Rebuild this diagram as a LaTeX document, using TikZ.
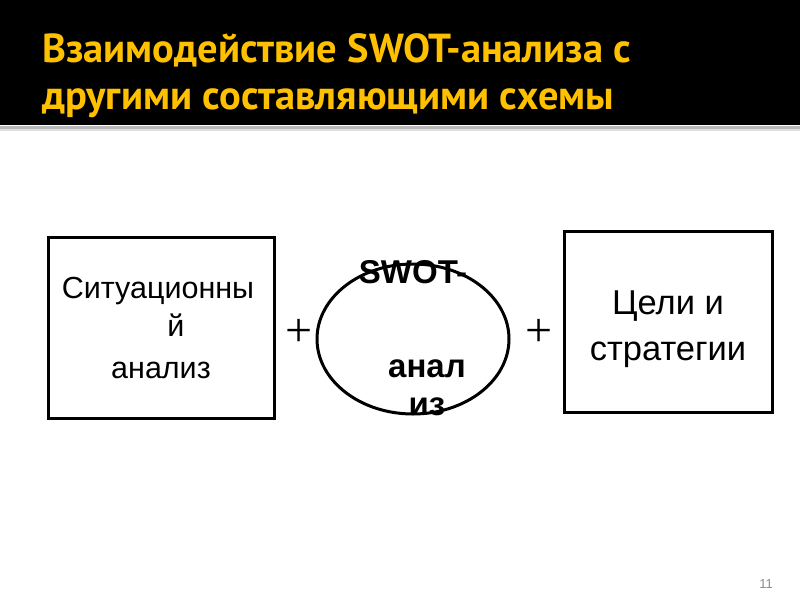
\documentclass[tikz,border=0pt]{standalone}
\usepackage{fontspec}
\setmainfont{Liberation Sans}
\newfontfamily\titlefont{PT Sans}
\newfontfamily\plusfont{Liberation Serif}
\definecolor{titleyellow}{HTML}{FFC000}
\definecolor{pagegray}{HTML}{8C8C8C}
\begin{document}
\begin{tikzpicture}[x=1pt,y=-1pt,
  bodytext/.style={font=\fontsize{30.5}{34}\selectfont,anchor=base,inner sep=0pt},
  goaltext/.style={font=\fontsize{34.5}{38}\selectfont,anchor=base,inner sep=0pt},
  swottext/.style={font=\fontsize{33}{38}\selectfont\bfseries,anchor=base,inner sep=0pt},
  plustext/.style={font=\plusfont\fontsize{48}{48}\selectfont,inner sep=0pt},
  titletext/.style={font=\titlefont\fontsize{40.5}{44}\selectfont\bfseries,text=titleyellow,anchor=base west,inner sep=0pt}]
\useasboundingbox (0,0) rectangle (800,600);
\fill[white] (0,0) rectangle (800,600);
% title bar
\fill[black] (0,0) rectangle (800,125);
\fill[black!28] (0,126) rectangle (800,128.5);
\fill[black!12] (0,128.5) rectangle (800,131);
\node[titletext] (t1) at (42,62) {Взаимодействие SWOT-анализа с};
\node[titletext] (t2) at (42,109) {другими составляющими схемы};
% left box
\draw[line width=3pt] (48,237) rectangle (274,418);
\node[bodytext] (l1) at (158,298) {Ситуационны};
\node[bodytext] (l2) at (176,336) {й};
\node[bodytext] (l3) at (161,378) {анализ};
% plus signs
\node[plustext] (p1) at (299,333) {+};
\node[plustext] (p2) at (539,333) {+};
% ellipse
\draw[line width=3pt] (413,339) ellipse [x radius=96, y radius=75];
\node[swottext] (s1) at (413,283) {SWOT-};
\node[swottext] (s2) at (427,377) {анал};
\node[swottext] (s3) at (427,415) {из};
% right box
\draw[line width=3pt] (564,231) rectangle (772,412);
\node[goaltext] (r1) at (668,314) {Цели и};
\node[goaltext] (r2) at (668,360) {стратегии};
% page number
\node[font=\fontsize{13}{15}\selectfont,text=pagegray,anchor=base,inner sep=0pt] (pn) at (766,588) {11};
\end{tikzpicture}
\end{document}
